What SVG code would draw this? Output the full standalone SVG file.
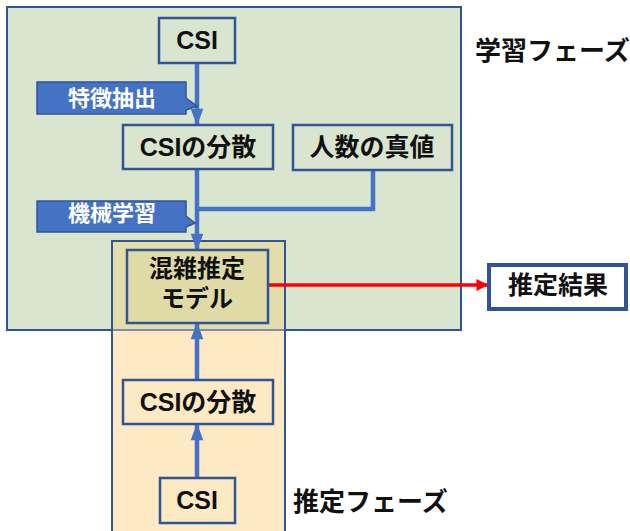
<svg xmlns="http://www.w3.org/2000/svg" width="630" height="531" viewBox="0 0 630 531">
<defs>
<style>
.t{font-family:"Liberation Sans","Noto Sans CJK JP",sans-serif;font-weight:bold;font-size:25px;fill:#111;text-anchor:middle}
.lbl{font-family:"Noto Sans CJK JP","Liberation Sans",sans-serif;font-weight:bold;font-size:26px;fill:#111}
.ct{font-family:"Noto Sans CJK JP","Liberation Sans",sans-serif;font-weight:bold;font-size:22px;fill:#fff;text-anchor:middle}
.box{stroke:#2f5597;stroke-width:2.5}
.co{fill:#4472c4;stroke:#2f5597;stroke-width:1.5}
.ln{fill:none;stroke:#4472c4;stroke-width:4.5}
</style>
<marker id="ab" markerWidth="4" markerHeight="4" refX="3.6" refY="2" orient="auto" markerUnits="strokeWidth" viewBox="0 0 4 4"><path d="M0.2,0.6 L4,2 L0.2,3.4 z" fill="#4472c4"/></marker>
<marker id="ar" markerWidth="4" markerHeight="4" refX="3.6" refY="2" orient="auto" markerUnits="strokeWidth" viewBox="0 0 4 4"><path d="M0.6,0.3 L4,2 L0.6,3.7 z" fill="#ff0000"/></marker>
</defs>
<rect width="630" height="531" fill="#fff"/>
<g id="learning-phase">
<rect x="7" y="7" width="454" height="323" fill="#dae5cf" stroke="#2f5597" stroke-width="2"/>
</g>
<g id="inference-phase">
<rect x="112" y="241" width="173" height="300" fill="#fde9c4" stroke="#2f5597" stroke-width="2"/>
<rect x="113" y="242" width="171" height="87" fill="#e3dcab"/>
<line x1="113" y1="330" x2="284" y2="330" stroke="#7f8ea8" stroke-width="2"/>
</g>
<text class="lbl" x="475" y="60">学習フェーズ</text>
<text class="lbl" x="293" y="511">推定フェーズ</text>
<g id="connectors">
<line class="ln" x1="197" y1="63" x2="197" y2="124" marker-end="url(#ab)"/>
<line class="ln" x1="197" y1="169" x2="197" y2="249" marker-end="url(#ab)"/>
<polyline class="ln" points="373,170 373,209 197,209"/>
<line class="ln" x1="197" y1="380" x2="197" y2="324" marker-end="url(#ab)"/>
<line class="ln" x1="197" y1="478" x2="197" y2="425" marker-end="url(#ab)"/>
<line x1="268" y1="285" x2="487" y2="285" stroke="#ff0000" stroke-width="3.5" marker-end="url(#ar)"/>
</g>
<g id="callout-feature">
<path class="co" d="M37,82 H186 V98 L197,106 L186,110 V114 H37 Z"/>
<text class="ct" x="112" y="106">特徴抽出</text>
</g>
<g id="callout-ml">
<path class="co" d="M37,201 H186 V216 L195,223 L186,227 V232 H37 Z"/>
<text class="ct" x="112" y="221">機械学習</text>
</g>
<g id="csi-top">
<rect class="box" x="159" y="18" width="76" height="45" fill="#dae5cf"/>
<text class="t" x="197" y="49">CSI</text>
</g>
<g id="csi-var-top">
<rect class="box" x="123" y="125" width="150" height="44" fill="#dae5cf"/>
<text class="t" x="198" y="156">CSIの分散</text>
</g>
<g id="true-count">
<rect class="box" x="293" y="125" width="159" height="45" fill="#dae5cf"/>
<text class="t" x="372" y="156">人数の真値</text>
</g>
<g id="model">
<rect class="box" x="127" y="250" width="141" height="73" fill="#e0dba6"/>
<text class="t" x="197" y="277" style="font-size:24px">混雑推定</text>
<text class="t" x="197" y="307" style="font-size:24px">モデル</text>
</g>
<g id="result">
<rect x="489" y="265" width="137" height="44" fill="#fff" stroke="#2f5597" stroke-width="4"/>
<text class="t" x="558" y="294">推定結果</text>
</g>
<g id="csi-var-bottom">
<rect class="box" x="123" y="380" width="150" height="44" fill="#fde9c4"/>
<text class="t" x="198" y="411">CSIの分散</text>
</g>
<g id="csi-bottom">
<rect class="box" x="160" y="478" width="75" height="45" fill="#fde9c4"/>
<text class="t" x="197" y="509">CSI</text>
</g>
</svg>
